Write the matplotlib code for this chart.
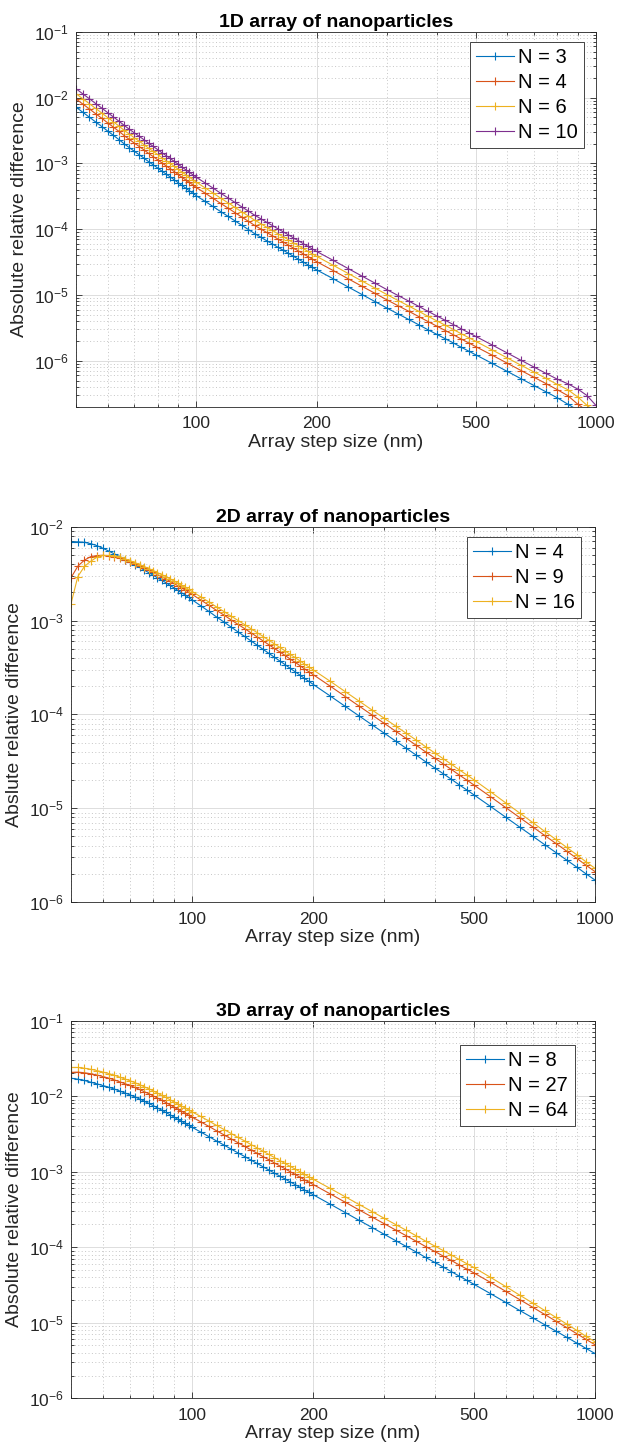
import numpy as np
import matplotlib
matplotlib.use('Agg')
import matplotlib.pyplot as plt
from matplotlib.ticker import LogLocator, FixedLocator, FixedFormatter, NullFormatter

plt.rcParams['font.family'] = ['Liberation Sans', 'DejaVu Sans']
plt.rcParams['axes.unicode_minus'] = False
plt.rcParams['mathtext.fontset'] = 'custom'
plt.rcParams['mathtext.rm'] = 'Liberation Sans'

# Array step sizes (nm) where the curves were sampled
step_nm = [50, 52, 54, 56, 58, 60, 62, 64, 66, 68, 70, 72, 74, 76, 78, 80, 82, 84, 86, 88, 90, 92, 94, 96, 98, 100,
           105, 110, 115, 120, 125, 130, 135, 140, 145, 150, 155, 160, 165, 170, 175, 180, 185, 190, 195, 200,
           220, 240, 260, 280, 300, 320, 340, 360, 380, 400, 420, 440, 460, 480, 500,
           550, 600, 650, 700, 750, 800, 850, 900, 950, 1000]

# Values, stored as log10(absolute relative difference)
# 1D array
logdiff_1d_n3 = [-2.146, -2.224, -2.298, -2.371, -2.440, -2.509, -2.574, -2.638, -2.703, -2.762, -2.818, -2.870, -2.922,
                 -2.975, -3.022, -3.070, -3.118, -3.162, -3.205, -3.249, -3.292, -3.336, -3.375, -3.414, -3.453, -3.492,
                 -3.575, -3.654, -3.733, -3.804, -3.875, -3.942, -4.006, -4.069, -4.122, -4.176, -4.225, -4.275, -4.321,
                 -4.367, -4.413, -4.456, -4.499, -4.541, -4.580, -4.619,
                 -4.754, -4.880, -4.995, -5.101, -5.200, -5.290, -5.373, -5.453, -5.530, -5.600, -5.667, -5.731, -5.795,
                 -5.853, -5.910,
                 -6.041, -6.163, -6.275, -6.377, -6.473, -6.563, -6.66, -6.75, -6.83, -6.90]
logdiff_1d_n4 = [-2.021, -2.099, -2.173, -2.246, -2.315, -2.384, -2.449, -2.513, -2.578, -2.637, -2.693, -2.745, -2.797,
                 -2.850, -2.897, -2.945, -2.993, -3.037, -3.080, -3.124, -3.167, -3.211, -3.250, -3.289, -3.328, -3.367,
                 -3.450, -3.529, -3.608, -3.679, -3.750, -3.817, -3.881, -3.944, -3.997, -4.051, -4.100, -4.150, -4.196,
                 -4.242, -4.288, -4.331, -4.374, -4.416, -4.455, -4.494,
                 -4.629, -4.755, -4.870, -4.976, -5.075, -5.165, -5.248, -5.328, -5.405, -5.475, -5.542, -5.606, -5.670,
                 -5.728, -5.785,
                 -5.916, -6.038, -6.150, -6.252, -6.348, -6.44, -6.53, -6.66, -6.76, -6.85]
logdiff_1d_n6 = [-1.941, -2.019, -2.093, -2.166, -2.235, -2.304, -2.369, -2.433, -2.498, -2.557, -2.613, -2.665, -2.717,
                 -2.770, -2.817, -2.865, -2.913, -2.957, -3.000, -3.044, -3.087, -3.131, -3.170, -3.209, -3.248, -3.287,
                 -3.370, -3.449, -3.528, -3.599, -3.670, -3.737, -3.801, -3.864, -3.917, -3.971, -4.020, -4.070, -4.116,
                 -4.162, -4.208, -4.251, -4.294, -4.336, -4.375, -4.414,
                 -4.549, -4.675, -4.790, -4.896, -4.995, -5.085, -5.168, -5.248, -5.325, -5.395, -5.462, -5.526, -5.590,
                 -5.648, -5.705,
                 -5.836, -5.958, -6.070, -6.172, -6.268, -6.36, -6.44, -6.55, -6.68, -6.78]
logdiff_1d_n10 = [-1.866, -1.944, -2.018, -2.091, -2.160, -2.229, -2.294, -2.358, -2.423, -2.482, -2.538, -2.590, -2.642,
                  -2.695, -2.742, -2.790, -2.838, -2.882, -2.925, -2.969, -3.012, -3.056, -3.095, -3.134, -3.173, -3.212,
                  -3.295, -3.374, -3.453, -3.524, -3.595, -3.662, -3.726, -3.789, -3.842, -3.896, -3.945, -3.995, -4.041,
                  -4.087, -4.133, -4.176, -4.219, -4.261, -4.300, -4.339,
                  -4.474, -4.600, -4.715, -4.821, -4.920, -5.010, -5.093, -5.173, -5.250, -5.320, -5.387, -5.451, -5.515,
                  -5.573, -5.630,
                  -5.761, -5.883, -5.995, -6.097, -6.193, -6.28, -6.35, -6.43, -6.53, -6.68]

# 2D array
logdiff_2d_n4 = [-2.160, -2.160, -2.166, -2.180, -2.201, -2.229, -2.258, -2.288, -2.318, -2.349, -2.376, -2.404, -2.433,
                 -2.461, -2.489, -2.516, -2.544, -2.570, -2.596, -2.623, -2.650, -2.677, -2.702, -2.727, -2.753, -2.779,
                 -2.842, -2.902, -2.962, -3.016, -3.070, -3.121, -3.169, -3.217, -3.262, -3.307, -3.349, -3.391, -3.430,
                 -3.469, -3.508, -3.544, -3.580, -3.616, -3.649, -3.682,
                 -3.803, -3.915, -4.018, -4.113, -4.201, -4.284, -4.361, -4.434, -4.505, -4.570, -4.632, -4.691, -4.750,
                 -4.803, -4.856,
                 -4.980, -5.095, -5.200, -5.297, -5.388, -5.472, -5.551, -5.626, -5.699, -5.765]
logdiff_2d_n9 = [-2.544, -2.420, -2.355, -2.318, -2.307, -2.304, -2.310, -2.318, -2.332, -2.355, -2.375, -2.396, -2.419,
                 -2.441, -2.464, -2.486, -2.510, -2.532, -2.555, -2.579, -2.603, -2.627, -2.650, -2.673, -2.697, -2.721,
                 -2.780, -2.836, -2.892, -2.942, -2.993, -3.041, -3.086, -3.131, -3.174, -3.217, -3.257, -3.297, -3.334,
                 -3.371, -3.409, -3.444, -3.479, -3.514, -3.546, -3.578,
                 -3.698, -3.810, -3.913, -4.008, -4.096, -4.179, -4.256, -4.329, -4.400, -4.465, -4.527, -4.586, -4.645,
                 -4.698, -4.751,
                 -4.876, -4.992, -5.099, -5.197, -5.290, -5.375, -5.456, -5.532, -5.607, -5.675]
logdiff_2d_n16 = [-2.822, -2.530, -2.423, -2.367, -2.324, -2.306, -2.306, -2.310, -2.317, -2.341, -2.360, -2.381, -2.403,
                  -2.424, -2.445, -2.466, -2.489, -2.510, -2.531, -2.554, -2.577, -2.600, -2.622, -2.644, -2.667, -2.690,
                  -2.747, -2.801, -2.855, -2.904, -2.953, -2.999, -3.043, -3.087, -3.128, -3.170, -3.209, -3.248, -3.285,
                  -3.322, -3.359, -3.393, -3.428, -3.463, -3.495, -3.527,
                  -3.646, -3.758, -3.860, -3.955, -4.042, -4.124, -4.201, -4.274, -4.345, -4.410, -4.472, -4.531, -4.590,
                  -4.643, -4.696,
                  -4.823, -4.942, -5.050, -5.151, -5.246, -5.333, -5.416, -5.494, -5.571, -5.640]

# 3D array
logdiff_3d_n8 = [-1.762, -1.775, -1.792, -1.815, -1.837, -1.859, -1.881, -1.905, -1.931, -1.957, -1.982, -2.009, -2.037,
                 -2.067, -2.095, -2.125, -2.156, -2.185, -2.215, -2.245, -2.275, -2.305, -2.332, -2.359, -2.386, -2.413,
                 -2.475, -2.535, -2.594, -2.648, -2.701, -2.752, -2.799, -2.847, -2.891, -2.936, -2.977, -3.019, -3.058,
                 -3.096, -3.135, -3.170, -3.206, -3.242, -3.274, -3.307,
                 -3.429, -3.542, -3.646, -3.741, -3.830, -3.913, -3.990, -4.064, -4.136, -4.201, -4.263, -4.323, -4.382,
                 -4.436, -4.489,
                 -4.614, -4.730, -4.837, -4.934, -5.026, -5.111, -5.191, -5.267, -5.340, -5.407]
logdiff_3d_n27 = [-1.685, -1.682, -1.690, -1.703, -1.720, -1.740, -1.761, -1.784, -1.809, -1.834, -1.858, -1.884, -1.911,
                  -1.940, -1.967, -1.996, -2.026, -2.054, -2.084, -2.113, -2.143, -2.172, -2.199, -2.225, -2.252, -2.278,
                  -2.340, -2.400, -2.459, -2.513, -2.566, -2.617, -2.664, -2.712, -2.756, -2.801, -2.842, -2.884, -2.923,
                  -2.961, -3.000, -3.035, -3.071, -3.107, -3.139, -3.172,
                  -3.293, -3.405, -3.508, -3.602, -3.690, -3.772, -3.848, -3.921, -3.992, -4.056, -4.117, -4.176, -4.234,
                  -4.287, -4.339,
                  -4.465, -4.583, -4.693, -4.794, -4.890, -4.979, -5.063, -5.143, -5.220, -5.291]
logdiff_3d_n64 = [-1.620, -1.620, -1.630, -1.644, -1.661, -1.680, -1.700, -1.722, -1.747, -1.771, -1.795, -1.820, -1.847,
                  -1.875, -1.902, -1.930, -1.960, -1.988, -2.017, -2.046, -2.075, -2.104, -2.130, -2.156, -2.182, -2.208,
                  -2.269, -2.329, -2.388, -2.442, -2.495, -2.546, -2.593, -2.641, -2.685, -2.730, -2.771, -2.813, -2.852,
                  -2.890, -2.929, -2.964, -3.000, -3.036, -3.068, -3.101,
                  -3.221, -3.333, -3.436, -3.530, -3.618, -3.700, -3.776, -3.849, -3.920, -3.984, -4.045, -4.104, -4.162,
                  -4.216, -4.268,
                  -4.398, -4.520, -4.634, -4.738, -4.837, -4.929, -5.016, -5.099, -5.179, -5.252]

labels_1d = ['N = 3', 'N = 4', 'N = 6', 'N = 10']
labels_2d = ['N = 4', 'N = 9', 'N = 16']
labels_3d = ['N = 8', 'N = 27', 'N = 64']

x_ticks = [100, 200, 500, 1000]
x_tick_labels = ['100', '200', '500', '1000']

# MATLAB default line colours
colors = ['#0072BD', '#D95319', '#EDB120', '#7E2F8E']
axis_color = '#262626'


def style_axes(ax, ylim, title, ylabel):
    ax.set_xscale('log')
    ax.set_yscale('log')
    ax.set_xlim(50, 1000)
    ax.set_ylim(*ylim)

    ax.xaxis.set_major_locator(FixedLocator(x_ticks))
    ax.xaxis.set_major_formatter(FixedFormatter(x_tick_labels))
    ax.xaxis.set_minor_locator(LogLocator(base=10, subs=np.arange(2, 10)))
    ax.xaxis.set_minor_formatter(NullFormatter())
    ax.yaxis.set_major_locator(LogLocator(base=10, numticks=20))
    ax.yaxis.set_minor_locator(LogLocator(base=10, subs=np.arange(2, 10), numticks=20))
    ax.yaxis.set_minor_formatter(NullFormatter())

    ax.grid(which='major', color='#dddddd', lw=0.7, ls='-')
    ax.grid(which='minor', color='#c6c6c6', lw=0.7, ls=(0, (1, 2.5)))
    ax.set_axisbelow(True)

    ax.tick_params(which='both', direction='in', top=True, right=True,
                   color=axis_color, width=0.6, labelsize=12.5, labelcolor=axis_color)
    ax.tick_params(which='major', length=4)
    ax.tick_params(which='minor', length=2.2)
    ax.tick_params(axis='x', which='major', pad=7)
    ax.tick_params(axis='y', which='major', pad=5)
    for sp in ax.spines.values():
        sp.set_color(axis_color)
        sp.set_linewidth(0.6)

    ax.set_title(title, fontsize=14, fontweight='bold', pad=3.5)
    ax.set_xlabel('Array step size (nm)', fontsize=14, labelpad=1.5, color=axis_color)
    ax.set_ylabel(ylabel, fontsize=14, labelpad=4.5, color=axis_color)


def draw_series(ax, series, labels, anchor):
    x = np.array(step_nm)
    for i, (logy, lab) in enumerate(zip(series, labels)):
        ax.plot(x, 10.0 ** np.array(logy), color=colors[i], lw=0.8,
                marker='+', markersize=5.5, markeredgewidth=0.8, label=lab)
    leg = ax.legend(loc='upper right', bbox_to_anchor=anchor, borderaxespad=0,
                    fontsize=14.5, handlelength=1.9, handletextpad=0.2,
                    borderpad=0.3, labelspacing=0.3, fancybox=False,
                    framealpha=1, edgecolor=axis_color)
    leg.get_frame().set_linewidth(0.6)


fig = plt.figure(figsize=(6.22, 14.5), dpi=100)

# 1D
ax1 = fig.add_axes([0.1222, 0.7195, 0.8360, 0.2586])
draw_series(ax1, [logdiff_1d_n3, logdiff_1d_n4, logdiff_1d_n6, logdiff_1d_n10], labels_1d, (0.977, 0.973))
style_axes(ax1, (2e-7, 1e-1), '1D array of nanoparticles', 'Absolute relative difference')

# 2D
ax2 = fig.add_axes([0.1141, 0.3779, 0.8424, 0.2588])
draw_series(ax2, [logdiff_2d_n4, logdiff_2d_n9, logdiff_2d_n16], labels_2d, (0.974, 0.973))
style_axes(ax2, (1e-6, 1e-2), '2D array of nanoparticles', 'Abslute relative difference')

# 3D
ax3 = fig.add_axes([0.1141, 0.0357, 0.8424, 0.2604])
draw_series(ax3, [logdiff_3d_n8, logdiff_3d_n27, logdiff_3d_n64], labels_3d, (0.961, 0.936))
style_axes(ax3, (1e-6, 1e-1), '3D array of nanoparticles', 'Absolute relative difference')

fig.savefig('out.png', dpi=100)
